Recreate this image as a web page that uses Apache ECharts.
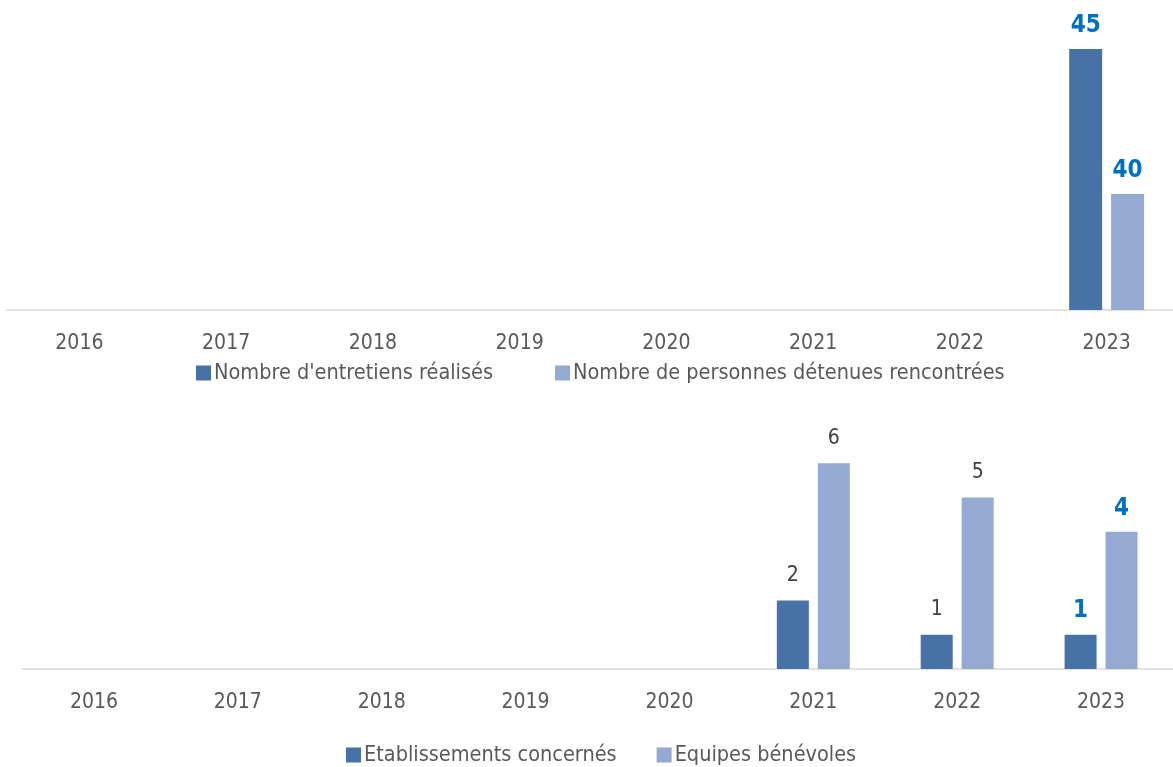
<!DOCTYPE html>
<html lang="fr">
<head>
<meta charset="utf-8">
<title>Entretiens et équipes bénévoles</title>
<script src="https://cdn.jsdelivr.net/npm/echarts@6/dist/echarts.min.js"></script>
<style>
  html, body { margin: 0; padding: 0; background: #ffffff; overflow: hidden; }
  #chart { width: 1180px; height: 767px; }
</style>
</head>
<body>
<div id="chart"></div>
<script>
// Years shown on both category axes
const years = ['2016', '2017', '2018', '2019', '2020', '2021', '2022', '2023'];

// Upper panel: interviews and people met
const entretiens = [null, null, null, null, null, null, null, 45];
const personnesRencontrees = [null, null, null, null, null, null, null, 40];

// Lower panel: establishments and volunteer teams
const etablissements = [null, null, null, null, null, 2, 1, 1];
const equipes = [null, null, null, null, null, 6, 5, 4];

const seriesNames = {
  entretiens: "Nombre d'entretiens réalisés",
  personnes: 'Nombre de personnes détenues rencontrées',
  etablissements: 'Etablissements concernés',
  equipes: 'Equipes bénévoles'
};

const FONT = "'Liberation Sans Narrow', 'DejaVu Sans Condensed', 'Open Sans', sans-serif";
const DARK = '#4672A7';
const LIGHT = '#95AAD0';
const GREY_TEXT = '#595959';
const LABEL_TEXT = '#404040';
const HIGHLIGHT = '#0070C0';
const latestYear = '2023';

// Plain labels for earlier years, bold blue for the latest one
const plainLabel = {
  show: true, position: 'top', distance: 14.5,
  color: LABEL_TEXT, fontFamily: FONT, fontSize: 21, lineHeight: 21
};
const strongLabel = {
  show: true, position: 'top', distance: 11.5,
  color: HIGHLIGHT, fontFamily: FONT, fontSize: 24, lineHeight: 24, fontWeight: 'bold'
};

function toItems(values) {
  return values.map((v, i) => v == null ? null : {
    value: v,
    label: years[i] === latestYear ? strongLabel : plainLabel
  });
}

const axisLabelStyle = {
  color: GREY_TEXT, fontFamily: FONT, fontSize: 21, margin: 23
};

function categoryAxis(gridIndex) {
  return {
    type: 'category', gridIndex, data: years,
    axisLine: { show: true, lineStyle: { color: '#D9D9D9', width: 1.5 } },
    axisTick: { show: false },
    axisLabel: axisLabelStyle
  };
}

function legendBlock(left, top, names, gap) {
  return {
    left, top, padding: 0, data: names, icon: 'rect',
    itemWidth: 15, itemHeight: 15, itemGap: gap,
    textStyle: { color: GREY_TEXT, fontFamily: FONT, fontSize: 21.5, padding: [0, 0, 0, -2] },
    selectedMode: false
  };
}

const chart = echarts.init(document.getElementById('chart'), null, { renderer: 'canvas' });

chart.setOption({
  backgroundColor: '#ffffff',
  animation: false,
  textStyle: { fontFamily: FONT },
  grid: [
    { left: 6, top: 20, right: 0, height: 290 },
    { left: 22, top: 429, right: 7, height: 240 }
  ],
  legend: [
    legendBlock(196, 362, [seriesNames.entretiens, seriesNames.personnes], 62),
    legendBlock(346, 744, [seriesNames.etablissements, seriesNames.equipes], 40)
  ],
  xAxis: [categoryAxis(0), categoryAxis(1)],
  yAxis: [
    { type: 'value', gridIndex: 0, min: 36, max: 46, show: false, splitLine: { show: false } },
    { type: 'value', gridIndex: 1, min: 0, max: 7, show: false, splitLine: { show: false } }
  ],
  series: [
    {
      name: seriesNames.entretiens, type: 'bar', xAxisIndex: 0, yAxisIndex: 0,
      data: toItems(entretiens), barWidth: 33, barGap: '27%',
      itemStyle: { color: DARK }
    },
    {
      name: seriesNames.personnes, type: 'bar', xAxisIndex: 0, yAxisIndex: 0,
      data: toItems(personnesRencontrees), barWidth: 33, barGap: '27%',
      itemStyle: { color: LIGHT }
    },
    {
      name: seriesNames.etablissements, type: 'bar', xAxisIndex: 1, yAxisIndex: 1,
      data: toItems(etablissements), barWidth: 32, barGap: '28%',
      itemStyle: { color: DARK }
    },
    {
      name: seriesNames.equipes, type: 'bar', xAxisIndex: 1, yAxisIndex: 1,
      data: toItems(equipes), barWidth: 32, barGap: '28%',
      itemStyle: { color: LIGHT }
    }
  ]
});
</script>
</body>
</html>
